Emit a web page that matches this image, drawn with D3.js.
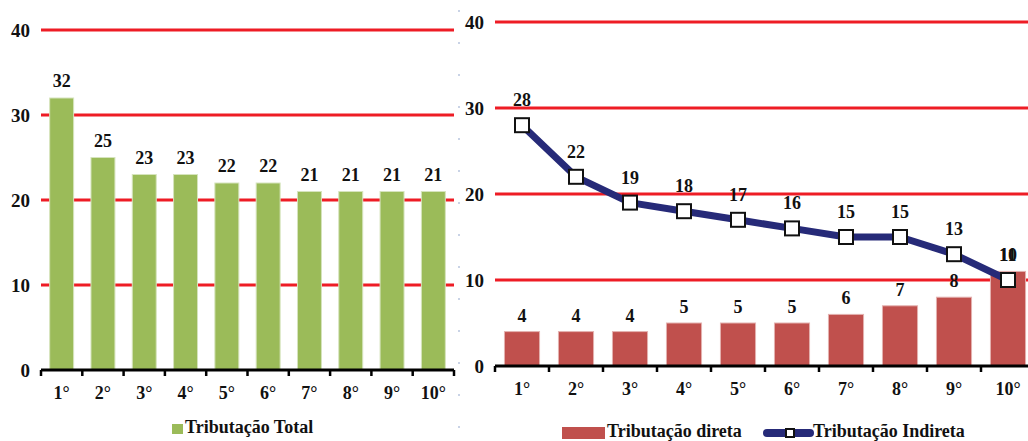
<!DOCTYPE html>
<html>
<head>
<meta charset="utf-8">
<script src="https://cdn.jsdelivr.net/npm/d3@7"></script>
<style>
  html, body { margin: 0; padding: 0; background: #fff; overflow: hidden; }
  svg { display: block; }
  svg text { font-family: "Liberation Serif", serif; font-weight: bold; fill: #111; }
</style>
</head>
<body>
<svg id="chart" width="1028" height="441"></svg>
<script>
// Decis de renda
const categories = ["1°", "2°", "3°", "4°", "5°", "6°", "7°", "8°", "9°", "10°"];
// Carga tributária total por decil (%)
const totalValues = [32, 25, 23, 23, 22, 22, 21, 21, 21, 21];
// Tributação direta por decil (%)
const directValues = [4, 4, 4, 5, 5, 5, 6, 7, 8, 11];
// Tributação indireta por decil (%)
const indirectValues = [28, 22, 19, 18, 17, 16, 15, 15, 13, 10];
// Valores do eixo Y
const yTicks = [0, 10, 20, 30, 40];

const gridColor = "#ee1c25";
const green = "#9bbb59";
const red = "#c0504d";
const navy = "#262a78";

function draw() {
  const svg = d3.select("#chart");
  svg.selectAll("*").remove();

  const styleText = (sel, size) => sel
    .attr("font-family", "Liberation Serif")
    .attr("font-weight", "bold")
    .attr("font-size", size)
    .attr("fill", "#111");

  // Separador pontilhado entre os painéis
  svg.append("line")
    .attr("x1", 459).attr("x2", 459).attr("y1", 10).attr("y2", 441)
    .attr("stroke", "#c9d3e6").attr("stroke-width", 2)
    .attr("stroke-dasharray", "2,30");

  function panel(opts) {
    const g = svg.append("g");
    const x = d3.scaleBand().domain(categories).range([opts.x0, opts.x1]).paddingInner(opts.pad).paddingOuter(opts.pad / 2);
    const xb = d3.scaleBand().domain(categories).range([opts.x0, opts.x1]);
    const y = d3.scaleLinear().domain([0, 40]).range([opts.y0, opts.yTop]);

    // Linhas de grade
    g.selectAll(".grid").data(yTicks.filter(d => d > 0)).join("line")
      .attr("x1", opts.x0).attr("x2", opts.gridEnd)
      .attr("y1", d => y(d)).attr("y2", d => y(d))
      .attr("stroke", gridColor).attr("stroke-width", 3);

    // Rótulos do eixo Y
    const ya = g.append("g").attr("transform", `translate(${opts.yLabelX},0)`)
      .call(d3.axisLeft(y).tickValues(yTicks).tickSize(0).tickPadding(0));
    ya.attr("font-family", null).attr("font-size", null);
    ya.select(".domain").remove();
    styleText(ya.selectAll("text"), 19).attr("dy", "0.35em");

    return { g, x, xb, y };
  }

  function baseAxis(p, x0, x1, y0) {
    const a = p.g.append("g").attr("transform", `translate(0,${y0})`)
      .call(d3.axisBottom(p.xb).tickSize(0).tickPadding(16));
    a.attr("font-family", null).attr("font-size", null);
    a.select(".domain").remove();
    styleText(a.selectAll("text"), 18);
    // Linha base e marcas entre categorias
    p.g.append("line").attr("x1", x0).attr("x2", x1).attr("y1", y0).attr("y2", y0)
      .attr("stroke", "#000").attr("stroke-width", 3);
    const bounds = categories.map(c => p.xb(c)).concat([p.xb(categories[categories.length - 1]) + p.xb.bandwidth()]);
    p.g.selectAll(".tk").data(bounds).join("line")
      .attr("x1", d => d).attr("x2", d => d).attr("y1", y0).attr("y2", y0 + 6)
      .attr("stroke", "#000").attr("stroke-width", 2.5);
  }

  // ---- Painel esquerdo: Tributação Total ----
  const left = panel({ x0: 41, x1: 454, gridEnd: 454, y0: 370, yTop: 30, pad: 0.42, yLabelX: 30 });
  left.g.selectAll(".bar").data(totalValues).join("rect")
    .attr("x", (d, i) => left.x(categories[i]))
    .attr("width", left.x.bandwidth())
    .attr("y", d => left.y(d))
    .attr("height", d => left.y(0) - left.y(d))
    .attr("fill", green).attr("stroke", "#d6e4bd").attr("stroke-width", 1);
  styleText(left.g.selectAll(".lbl").data(totalValues).join("text"), 18)
    .attr("x", (d, i) => left.xb(categories[i]) + left.xb.bandwidth() / 2)
    .attr("y", d => left.y(d) - 11)
    .attr("text-anchor", "middle")
    .text(d => d);
  baseAxis(left, 41, 454, 370);

  // Legenda esquerda
  svg.append("rect").attr("x", 172).attr("y", 424).attr("width", 11).attr("height", 10).attr("fill", green);
  styleText(svg.append("text"), 18).attr("x", 185).attr("y", 433).text("Tributação Total");

  // ---- Painel direito: Tributação direta e indireta ----
  const right = panel({ x0: 495, x1: 1035, gridEnd: 1028, y0: 366, yTop: 22, pad: 0.35, yLabelX: 484 });
  right.g.selectAll(".bar").data(directValues).join("rect")
    .attr("x", (d, i) => right.x(categories[i]))
    .attr("width", right.x.bandwidth())
    .attr("y", d => right.y(d))
    .attr("height", d => right.y(0) - right.y(d))
    .attr("fill", red).attr("stroke", "#e3b1b0").attr("stroke-width", 1);
  styleText(right.g.selectAll(".dlbl").data(directValues).join("text"), 18)
    .attr("x", (d, i) => right.xb(categories[i]) + right.xb.bandwidth() / 2)
    .attr("y", d => right.y(d) - 10)
    .attr("text-anchor", "middle")
    .text(d => d);

  const cx = i => right.xb(categories[i]) + right.xb.bandwidth() / 2;
  const line = d3.line().x((d, i) => cx(i)).y(d => right.y(d));
  right.g.append("path").datum(indirectValues)
    .attr("d", line).attr("fill", "none")
    .attr("stroke", navy).attr("stroke-width", 7).attr("stroke-linejoin", "round");
  right.g.selectAll(".mk").data(indirectValues).join("rect")
    .attr("x", (d, i) => cx(i) - 7).attr("y", d => right.y(d) - 7)
    .attr("width", 14).attr("height", 14)
    .attr("fill", "#fff").attr("stroke", "#111").attr("stroke-width", 2);
  styleText(right.g.selectAll(".ilbl").data(indirectValues).join("text"), 18)
    .attr("x", (d, i) => cx(i))
    .attr("y", d => right.y(d) - 19)
    .attr("text-anchor", "middle")
    .text(d => d);
  baseAxis(right, 495, 1028, 366);

  // Legenda direita
  svg.append("rect").attr("x", 562).attr("y", 427).attr("width", 43).attr("height", 12).attr("fill", red);
  styleText(svg.append("text"), 18).attr("x", 607).attr("y", 437).text("Tributação direta");
  svg.append("line").attr("x1", 767).attr("x2", 810).attr("y1", 433).attr("y2", 433)
    .attr("stroke", navy).attr("stroke-width", 8).attr("stroke-linecap", "round");
  svg.append("rect").attr("x", 786).attr("y", 429).attr("width", 8).attr("height", 8)
    .attr("fill", "#fff").attr("stroke", "#111").attr("stroke-width", 2);
  styleText(svg.append("text"), 18).attr("x", 813).attr("y", 437).text("Tributação Indireta");
}

draw();
// Redesenha quando a fonte estiver disponível
if (document.fonts && document.fonts.load) {
  document.fonts.load("bold 16px 'Liberation Serif'").then(draw).catch(() => {});
}
</script>
</body>
</html>
